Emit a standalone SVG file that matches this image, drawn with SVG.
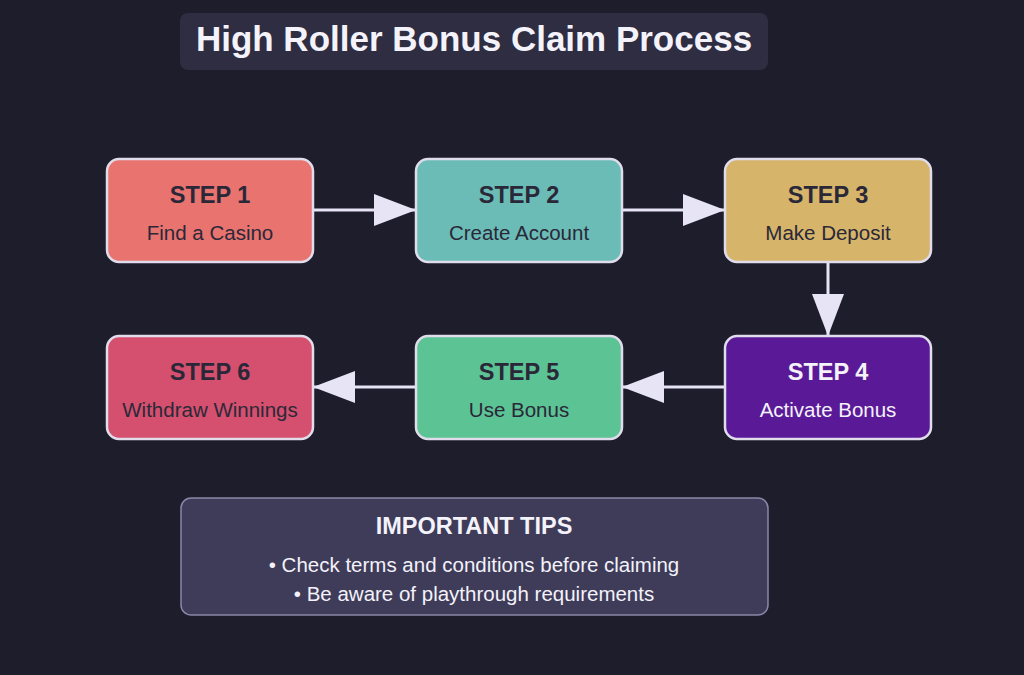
<svg xmlns="http://www.w3.org/2000/svg" width="1024" height="675" viewBox="0 0 1024 675">
<style>
.box{stroke:#e0dcec;stroke-width:2.5}
.h{font-family:"Liberation Sans",Arial,sans-serif;font-weight:bold;font-size:23.5px;fill:#2a2838;text-anchor:middle}
.s{font-family:"Liberation Sans",Arial,sans-serif;font-size:20.5px;fill:#2a2838;text-anchor:middle}
.w{fill:#f4f2fa}
.c{stroke:#e6e4f5;stroke-width:3;fill:none;marker-end:url(#a)}
</style>
<defs><marker id="a" markerUnits="userSpaceOnUse" markerWidth="44" markerHeight="32" refX="42" refY="16" orient="auto"><path d="M0,0 L42,16 L0,32 Z" fill="#e6e4f5"/></marker></defs>
<rect width="1024" height="675" fill="#1e1d2b"/>
<g id="title"><rect x="180" y="13" width="588" height="57" rx="8" fill="#2e2d42"/><text x="474" y="51" class="h w" style="font-size:35px">High Roller Bonus Claim Process</text></g>
<g id="connectors">
<line class="c" x1="313" y1="210" x2="416" y2="210"/>
<line class="c" x1="622" y1="210" x2="725" y2="210"/>
<line class="c" x1="828" y1="262" x2="828" y2="336"/>
<line class="c" x1="725" y1="387" x2="622" y2="387"/>
<line class="c" x1="416" y1="387" x2="313" y2="387"/>
</g>
<g id="step1"><rect class="box" x="107" y="159" width="206" height="103" rx="12" fill="#e8736f"/><text class="h" x="210" y="203">STEP 1</text><text class="s" x="210" y="240">Find a Casino</text></g>
<g id="step2"><rect class="box" x="416" y="159" width="206" height="103" rx="12" fill="#6bbcb6"/><text class="h" x="519" y="203">STEP 2</text><text class="s" x="519" y="240">Create Account</text></g>
<g id="step3"><rect class="box" x="725" y="159" width="206" height="103" rx="12" fill="#d6b46a"/><text class="h" x="828" y="203">STEP 3</text><text class="s" x="828" y="240">Make Deposit</text></g>
<g id="step4"><rect class="box" x="725" y="336" width="206" height="103" rx="12" fill="#5a1a98"/><text class="h w" x="828" y="380">STEP 4</text><text class="s w" x="828" y="417">Activate Bonus</text></g>
<g id="step5"><rect class="box" x="416" y="336" width="206" height="103" rx="12" fill="#5cc394"/><text class="h" x="519" y="380">STEP 5</text><text class="s" x="519" y="417">Use Bonus</text></g>
<g id="step6"><rect class="box" x="107" y="336" width="206" height="103" rx="12" fill="#d5506e"/><text class="h" x="210" y="380">STEP 6</text><text class="s" x="210" y="417">Withdraw Winnings</text></g>
<g id="tips"><rect x="181" y="498" width="587" height="117" rx="10" fill="#3e3c59" stroke="#8a87a8" stroke-width="1.5"/><text class="h w" x="474" y="534">IMPORTANT TIPS</text><text class="s w" x="474" y="572">• Check terms and conditions before claiming</text><text class="s w" x="474" y="601">• Be aware of playthrough requirements</text></g>
</svg>
